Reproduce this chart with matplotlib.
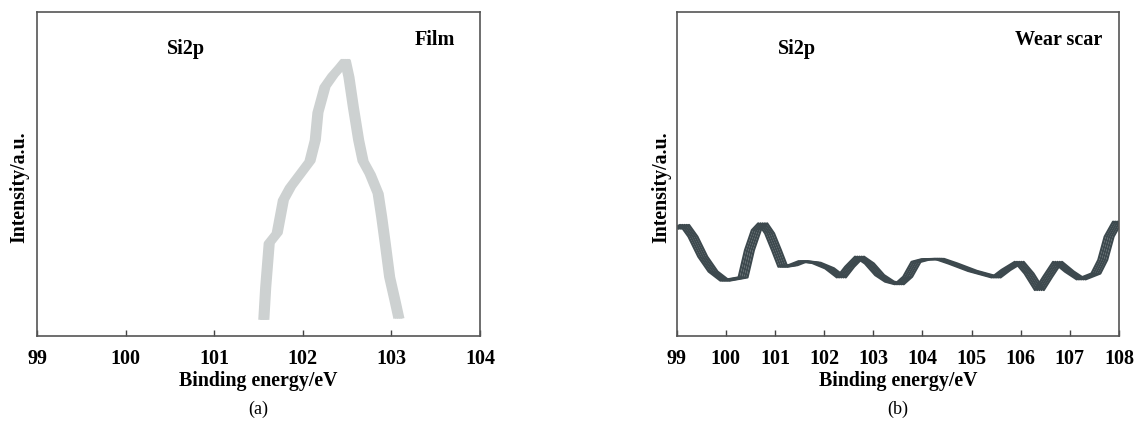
import matplotlib
matplotlib.use('Agg')
import matplotlib.pyplot as plt
import matplotlib.patheffects as pe

plt.rcParams['font.family'] = ['Liberation Serif', 'DejaVu Serif']

# (a) Film, Si2p
energia_film = [101.56, 101.58, 101.62, 101.71, 101.78, 101.86, 101.97, 102.08, 102.14, 102.17,
                102.25, 102.34, 102.42, 102.48, 102.52, 102.57, 102.63, 102.68, 102.76, 102.85,
                102.89, 102.93, 102.98, 103.04, 103.08]
intensidad_film = [5.6, 15.0, 28.7, 31.8, 42.0, 46.0, 50.0, 54.0, 60.5, 69.0,
                   77.0, 80.5, 83.0, 85.0, 80.0, 70.7, 60.5, 54.0, 50.0, 44.0,
                   36.8, 28.7, 18.2, 11.0, 6.0]

# (b) Wear scar, Si2p
energia_scar = [99.0, 99.16, 99.33, 99.53, 99.74, 99.98, 100.35, 100.48, 100.62, 100.75,
                100.89, 101.03, 101.16, 101.37, 101.57, 101.84, 102.11, 102.35, 102.52, 102.72,
                102.92, 103.13, 103.33, 103.53, 103.70, 103.87, 104.07, 104.35, 104.62, 105.02,
                105.50, 105.70, 105.97, 106.17, 106.38, 106.55, 106.75, 106.99, 107.23, 107.53,
                107.67, 107.80, 107.97, 108.05]
intensidad_scar = [33.2, 34.3, 30.7, 24.5, 19.9, 17.1, 18.1, 26.5, 32.7, 34.8,
                   31.7, 26.5, 21.4, 21.9, 23.1, 22.6, 20.9, 18.1, 21.4, 24.5,
                   22.4, 18.8, 16.8, 16.0, 18.3, 22.9, 23.7, 23.8, 22.4, 20.1,
                   18.1, 20.4, 22.9, 19.3, 14.2, 18.3, 22.9, 19.9, 17.5, 19.3,
                   23.5, 30.7, 35.3, 35.0]

ticks_a = [99, 100, 101, 102, 103, 104]
ticks_b = [99, 100, 101, 102, 103, 104, 105, 106, 107, 108]

fig = plt.figure(figsize=(11.36, 4.21), dpi=100)
ax_a = fig.add_axes([0.0328, 0.2019, 0.3897, 0.769])
ax_b = fig.add_axes([0.5957, 0.2019, 0.3893, 0.769])


# pincel rectangular: la linea se arrastra en horizontal
def pincel(color, ancho, dx):
    return [pe.Stroke(linewidth=ancho, foreground=color, offset=(d, 0))
            for d in [-dx, -dx / 2, 0, dx / 2, dx]]


ax_a.plot(energia_film, intensidad_film, color='#cdd1d1', lw=3,
          path_effects=pincel('#cdd1d1', 2.8, 2.6))
ax_b.plot(energia_scar, intensidad_scar, color='#3b474c', lw=1.5,
          path_effects=pincel('#3d494e', 1.6, 3.2), clip_on=True)

for ax, ticks, etiqueta in [(ax_a, ticks_a, '(a)'), (ax_b, ticks_b, '(b)')]:
    ax.set_xlim(ticks[0], ticks[-1])
    ax.set_ylim(0, 100)
    ax.set_xticks(ticks)
    ax.set_xticklabels([str(t) for t in ticks], fontsize=14.5, fontweight='bold')
    ax.set_yticks([])
    ax.tick_params(axis='x', direction='in', length=4, width=1, color='#444444', pad=9)
    for s in ax.spines.values():
        s.set_color('#555555')
        s.set_linewidth(1.2)
    ax.set_xlabel('Binding energy/eV', fontsize=14.3, fontweight='bold', labelpad=2)
    ax.set_ylabel('Intensity/a.u.', fontsize=14.3, fontweight='bold')
    ax.text(0.5, -0.228, etiqueta, transform=ax.transAxes, ha='center', va='center',
            fontsize=13)

ax_a.yaxis.set_label_coords(-0.019, 0.46)
ax_b.yaxis.set_label_coords(-0.012, 0.46)

ax_a.text(0.336, 0.885, 'Si2p', transform=ax_a.transAxes, ha='center', va='center',
          fontsize=14.5, fontweight='bold')
ax_a.text(0.898, 0.915, 'Film', transform=ax_a.transAxes, ha='center', va='center',
          fontsize=14.5, fontweight='bold')
ax_b.text(0.271, 0.885, 'Si2p', transform=ax_b.transAxes, ha='center', va='center',
          fontsize=14.5, fontweight='bold')
ax_b.text(0.864, 0.915, 'Wear scar', transform=ax_b.transAxes, ha='center', va='center',
          fontsize=14.5, fontweight='bold')

fig.savefig('out.png', dpi=100)
